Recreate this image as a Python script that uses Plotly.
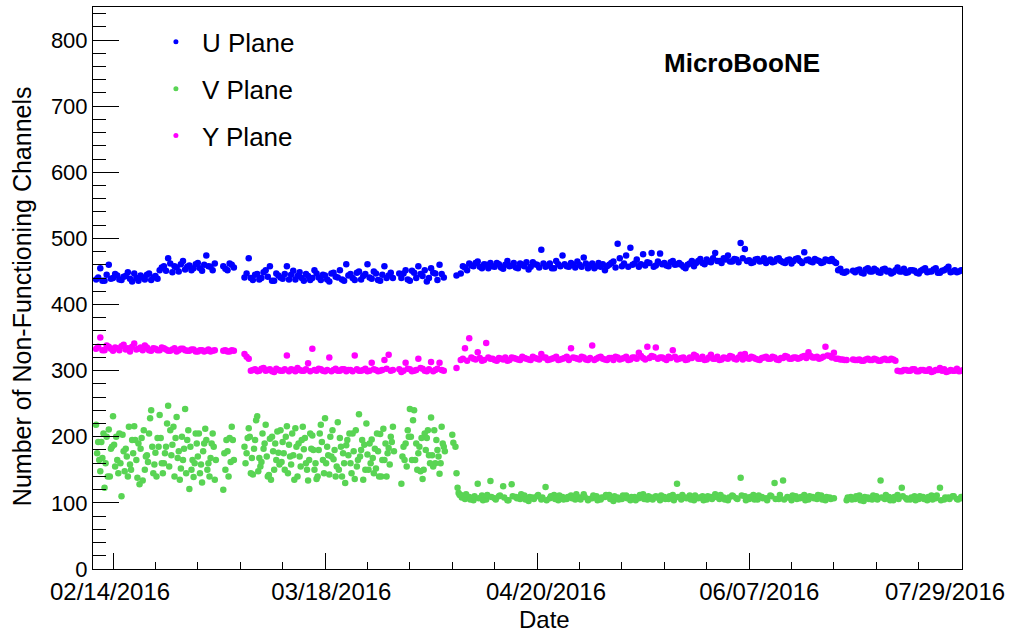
import plotly.graph_objects as go

# ---------------- data ----------------
# run index (x); major ticks every 50 runs, date labels placed below them
tick_runs = [0, 50, 100, 150, 200]
label_runs = [-0.7, 51.5, 102.1, 152.4, 196.2]
tick_labels = ["02/14/2016", "03/18/2016", "04/20/2016", "06/07/2016", "07/29/2016"]
first_run = -4

# first reading per run
U_plane = [
    438, 455, 436, 460,
    440, 444, 437, 443, 439, 447, 436, 441, 445, 437,
    443, 452, 458, 470, 449, 456, 461, 453, 459, 455,
    463, 451, 474, 457, 462, None, 458, 452, 460, None,
    None, 441, 470, 437, 446, 440, 452, 458, 436, 444,
    439, 458, 445, 438, 449, 436, 443, 440, 447, 437,
    444, 435, 448, 441, 438, 461, 446, 437, 450, 443,
    461, 439, 447, 436, 458, 444, 440, None, 440, 452,
    436, 448, 458, 443, 435, 455, 447, 460, 441, None,
    None, 444, 447, 456, 462, 458, 465, 455, 460, 463,
    457, 461, 454, 466, 459, 456, 462, 458, 453, 464,
    460, 483, 457, 462, 455, 461, 474, 458, 463, 456,
    460, 471, 455, 462, 458, 457, 452, 460, 465, 492,
    458, 474, 486, 462, 457, 476, 464, 478, 459, 477,
    463, 458, 466, 461, 460, 455, 462, 458, 466, 463,
    468, 464, 478, 466, 470, 474, 465, 468, 493, 484,
    467, 464, 469, 466, 463, 468, 465, 470, 464, 467,
    462, 469, 466, 479, 468, 464, 467, 463, 468, 466,
    465, 452, 449, 450, None, 449, 453, 447, 455, 450,
    452, 448, 454, 451, 449, 456, 450, 448, 452, 451,
    447, 453, 449, 450, 455, 448, 452, 457, 450, 449,
    452,
]
# second reading per run (half a run later)
U_plane_2 = [
    441, 436, 445, 439,
    446, 438, 442, 449, 435, 440, 444, 438, 447, 441,
    439, 456, 451, 462, 458, 450, 466, 457, 452, 461,
    455, 460, 458, 452, None, None, 454, 462, 456, None,
    None, 447, 440, 445, 438, 449, 442, 436, 447, 441,
    446, 438, 451, 443, 440, 446, 437, 452, 441, 445,
    438, 447, 442, 452, 436, 444, 440, 448, 438, 446,
    441, 450, 437, 445, 440, 448, None, 447, 447, 438,
    451, 440, 446, 452, 440, 448, 437, 446, None, None,
    None, None, 458, 452, 459, 463, 457, 461, 455, 458,
    463, 456, 460, 458, 463, 455, 460, 464, 457, 461,
    456, 462, 459, 455, 466, 458, 461, 457, 460, 465,
    457, 462, 459, 455, 463, 461, 458, 463, 456, 470,
    462, 457, 460, 468, 461, 459, 463, 457, 465, 461,
    459, 464, 460, 463, 457, 460, 466, 463, 469, 461,
    465, 470, 466, 463, 468, 465, 469, 464, 470, 466,
    463, 468, 465, 470, 466, 464, 469, 466, 463, 468,
    466, 470, 463, 467, 465, 469, 466, 464, 467, 469,
    463, 454, 448, None, 451, 452, 448, 453, 450, 454,
    449, 453, 450, 447, 452, 450, 454, 449, 452, 448,
    451, 455, 450, 453, 448, 451, 454, 449, 452, 450,
    451,
]

Y_plane = [
    333, 350, 331, 336,
    330, 334, 337, 332, 329, 341, 333, 331, 335, 330,
    333, 331, 334, 330, 332, 329, 333, 331, 330, 332,
    329, 331, 330, 329, 331, None, 330, 329, 331, None,
    None, 325, 318, 301, 299, 303, 300, 302, 298, 301,
    300, 323, 302, 299, 301, 300, 311, 333, 300, 302,
    299, 320, 301, 300, 302, 299, 301, 323, 300, 301,
    299, 312, 301, 300, 316, 324, 301, None, 298, 312,
    302, 300, 318, 303, 299, 313, 301, 312, 300, None,
    None, 304, 316, 334, 349, 318, 328, 315, 342, 318,
    316, 319, 317, 315, 320, 318, 316, 319, 317, 321,
    318, 325, 320, 317, 319, 316, 318, 321, 334, 319,
    317, 320, 316, 338, 318, 321, 317, 319, 316, 320,
    318, 321, 317, 320, 327, 319, 336, 322, 335, 320,
    318, 321, 331, 317, 319, 316, 320, 324, 318, 321,
    317, 324, 318, 316, 320, 318, 321, 317, 324, 325,
    318, 320, 317, 319, 321, 318, 320, 316, 319, 321,
    318, 320, 319, 322, 328, 320, 321, 319, 336, 322,
    327, 318, 317, 316, None, 316, 317, 315, 318, 316,
    317, 315, 318, 316, 317, 300, 299, 301, 300, 302,
    299, 301, 300, 298, 301, 304, 302, 299, 300, 303,
    300,
]
Y_plane_2 = [
    336, 331, 338, 333,
    335, 331, 339, 334, 336, 332, 335, 338, 331, 334,
    331, 335, 332, 330, 334, 331, 333, 330, 332, 329,
    331, 329, 332, 330, None, None, 331, 329, 330, None,
    None, 321, 300, 302, 300, 304, 301, 299, 303, 300,
    302, 299, 301, 304, 300, 302, 299, 301, 303, 300,
    301, 299, 303, 300, 302, 301, 299, 302, 300, 303,
    300, 302, 299, 301, 303, 300, None, 302, 300, 303,
    299, 301, 304, 300, 302, 299, 303, 301, None, None,
    None, None, 318, 315, 320, 317, 319, 316, 320, 318,
    315, 318, 320, 316, 319, 317, 321, 318, 316, 319,
    317, 320, 316, 318, 321, 317, 319, 316, 320, 318,
    321, 317, 319, 316, 320, 318, 316, 319, 321, 317,
    319, 316, 320, 318, 322, 317, 319, 321, 318, 320,
    316, 319, 321, 318, 320, 317, 319, 322, 318, 316,
    320, 318, 321, 317, 319, 322, 318, 320, 317, 319,
    321, 318, 316, 320, 318, 321, 317, 319, 322, 318,
    320, 318, 321, 319, 322, 320, 318, 321, 323, 320,
    318, 317, 316, None, 317, 316, 315, 317, 316, 318,
    315, 317, 316, 318, 315, 299, 301, 300, 302, 299,
    301, 300, 302, 299, 301, 300, 298, 301, 300, 299,
    301,
]

V_plane = [
    218, 148, 123, 211,
    231, 165, 110, 182, 158, 216, 190, 134, 172, 240,
    176, 233, 160, 247, 188, 230, 152, 242, 121, 139,
    170, 131, 195, 168, 135, None, 120, 178, 215, None,
    None, 185, 213, 143, 231, 162, 218, 197, 150, 176,
    192, 216, 158, 213, 170, 181, 134, 202, 136, 218,
    228, 143, 166, 222, 140, 187, 160, 136, 234, 135,
    173, 196, 152, 204, 165, 183, 215, None, 129, 190,
    242, 240, 175, 136, 198, 229, 160, 144, 185, None,
    203, 145, 112, 106, 109, 104, 129, 111, 105, 133,
    107, 110, 125, 104, 128, 109, 106, 111, 103, 108,
    110, 105, 124, 107, 112, 104, 109, 106, 111, 105,
    108, 113, 104, 107, 110, 105, 109, 112, 103, 108,
    106, 111, 104, 109, 107, 113, 105, 108, 110, 104,
    109, 106, 112, 129, 105, 108, 111, 104, 107, 110,
    105, 109, 113, 106, 108, 104, 111, 107, 138, 110,
    106, 112, 105, 109, 107, 111, 130, 106, 134, 109,
    104, 110, 107, 112, 105, 109, 106, 111, 104, 108,
    107, None, None, 104, 109, 106, 111, 103, 108, 105,
    110, 134, 106, 109, 104, 112, 123, 107, 105, 110,
    106, 109, 104, 111, 107, 123, 105, 108, 110, 106,
    109,
]
V_plane_2 = [
    175, 192, 160, 140,
    188, 145, 203, 170, 150, 195, 128, 210, 162, 185,
    140, 198, 175, 155, 215, 168, 200, 145, 185, 160,
    205, 178, 150, 190, 165, None, 175, 140, 195, None,
    None, 160, 200, 182, 148, 205, 170, 135, 190, 158,
    175, 145, 205, 185, 155, 198, 165, 180, 140, 192,
    160, 200, 180, 150, 175, 195, 145, 210, 170, 188,
    150, 168, 205, 140, 190, 158, 178, None, 170, 155,
    200, 165, 185, 150, 210, 172, 195, 160, 178, None,
    191, 123, 108, 113, 105, 110, 107, 104, 112, 109,
    105, 111, 108, 104, 110, 107, 113, 105, 109, 106,
    112, 108, 104, 110, 106, 111, 105, 109, 107, 113,
    105, 109, 106, 111, 104, 108, 112, 106, 110, 105,
    111, 107, 109, 104, 112, 106, 110, 105, 108, 111,
    106, 110, 104, 109, 112, 107, 105, 111, 108, 104,
    110, 106, 109, 112, 105, 108, 110, 106, 111, 104,
    109, 105, 111, 107, 104, 110, 106, 112, 105, 108,
    111, 106, 109, 104, 110, 107, 112, 105, 109, 106,
    None, None, None, 108, 105, 110, 104, 109, 106, 111,
    105, 108, 112, 104, 109, 106, 110, 105, 108, 104,
    110, 106, 109, 105, 111, 104, 108, 106, 110, 105,
    107,
]
# third and fourth readings during the noisy period (runs -4 .. 81)
V_plane_3 = [
    192, 168, 200, 182,
    155, 205, 178, 140, 195, 165, 182, 150, 205, 145,
    198, 160, 185, 210, 140, 178, 165, 195, 150, 205,
    145, 190, 160, 205, None, None, 150, 198, 165, None,
    None, 175, 145, 195, 168, 182, 140, 200, 165, 210,
    150, 188, 172, 140, 195, 160, 205, 150, 180, 165,
    185, 170, 140, 198, 160, 172, 205, 155, 180, 150,
    190, 145, 178, 165, 140, 200, None, None, 185, 210,
    165, 190, 148, 205, 172, 155, 180, 215, None, None,
    None, 115,
]
V_plane_4 = [
    165, 205, 140, 185,
    200, 160, 148, 215, 175, 138, 198, 170, 228, 158,
    185, 145, 220, 172, 198, 135, 182, 210, 165, 190,
    158, 212, 140, 185, None, None, 195, 162, None, None,
    None, 198, 168, 225, 155, 190, 142, 178, 208, 162,
    200, 170, 135, 190, 215, 150, 182, 160, 205, 145,
    172, 210, 155, 185, 130, 205, 178, 165, 195, 220,
    160, 182, 140, 212, 175, 192, None, None, 165, 200,
    225, 150, 198, 180, 160, 210, 170, 190, None, None,
    185, 112,
]

series_names = ["U Plane", "V Plane", "Y Plane"]
series_colors = ["#0000ff", "#59d454", "#ff00ff"]

# ---------------- figure ----------------
runs = list(range(first_run, first_run + len(U_plane)))
runs_q1 = [r + 0.25 for r in runs]
runs_q2 = [r + 0.5 for r in runs]
runs_q3 = [r + 0.75 for r in runs]

FONT = "Liberation Sans, Arial, Helvetica, sans-serif"
MS = 6.5

fig = go.Figure()
data_sets = [
    (runs, U_plane, series_colors[0]),
    (runs_q2, U_plane_2, series_colors[0]),
    (runs, Y_plane, series_colors[2]),
    (runs_q2, Y_plane_2, series_colors[2]),
    (runs, V_plane, series_colors[1]),
    (runs_q1, V_plane_2, series_colors[1]),
    (runs_q2[:len(V_plane_3)], V_plane_3, series_colors[1]),
    (runs_q3[:len(V_plane_4)], V_plane_4, series_colors[1]),
]
for xs, ys, col in data_sets:
    fig.add_trace(go.Scatter(x=xs, y=ys, mode="markers",
                             marker=dict(color=col, size=MS, line=dict(width=0)),
                             showlegend=False, hoverinfo="x+y"))

# legend entries (small markers as in the original)
for name, col in zip(series_names, series_colors):
    fig.add_trace(go.Scatter(x=[None], y=[None], mode="markers", name=name,
                             legendgroup=name,
                             marker=dict(color=col, size=5)))

# carrier trace for the date-label axis
fig.add_trace(go.Scatter(x=[None], y=[None], xaxis="x2", showlegend=False,
                         hoverinfo="skip"))

xrange = [-4.72, 200.2]
fig.update_layout(
    width=1013, height=633,
    margin=dict(l=93, r=51, t=7, b=64, autoexpand=False),
    paper_bgcolor="white", plot_bgcolor="white",
    font=dict(family=FONT, color="black", size=22),
    legend=dict(x=0.0655, y=0.9796, xanchor="left", yanchor="top",
                font=dict(size=26, family=FONT), bgcolor="rgba(0,0,0,0)",
                tracegroupgap=10, itemwidth=42, itemsizing="trace"),
    xaxis=dict(range=xrange, tickmode="array", tickvals=tick_runs,
               showticklabels=False, ticks="inside", ticklen=16, tickwidth=1,
               tickcolor="black", showline=True, linecolor="black", linewidth=1,
               mirror=True, showgrid=False, zeroline=False, automargin=False,
               minor=dict(tickmode="linear", tick0=0, dtick=10, ticks="inside",
                          ticklen=7, tickcolor="black", showgrid=False)),
    xaxis2=dict(range=xrange, overlaying="x", side="bottom", anchor="y",
                tickmode="array", tickvals=label_runs, ticktext=tick_labels,
                ticks="", showline=False, showgrid=False, zeroline=False,
                automargin=False, ticklabeloverflow="allow",
                ticklabelstandoff=6,
                tickfont=dict(size=24, family=FONT, color="black")),
    yaxis=dict(range=[0, 850], tickmode="linear", tick0=0, dtick=100,
               ticks="inside", ticklen=26, tickwidth=1, tickcolor="black",
               showline=True, linecolor="black", linewidth=1, mirror=True,
               showgrid=False, zeroline=False, automargin=False,
               tickfont=dict(size=22, family=FONT),
               minor=dict(tickmode="linear", tick0=0, dtick=20, ticks="inside",
                          ticklen=13, tickcolor="black", showgrid=False)),
    annotations=[
        dict(text="<b>MicroBooNE</b>", xref="paper", yref="paper", x=0.7468, y=0.9005,
             xanchor="center", yanchor="middle", showarrow=False,
             font=dict(size=26, family=FONT, color="black")),
        dict(text="Date", xref="paper", yref="paper", x=0.519, y=-0.0894,
             xanchor="center", yanchor="middle", showarrow=False,
             font=dict(size=24, family=FONT, color="black")),
        dict(text="Number of Non-Functioning Channels", xref="paper", yref="paper",
             x=-0.0817, y=0.4855, xanchor="center", yanchor="middle",
             textangle=-90, showarrow=False,
             font=dict(size=25, family=FONT, color="black")),
    ],
)

fig.write_html("out.html", config={"displayModeBar": False},
               post_script="document.body.style.margin='0px';")
